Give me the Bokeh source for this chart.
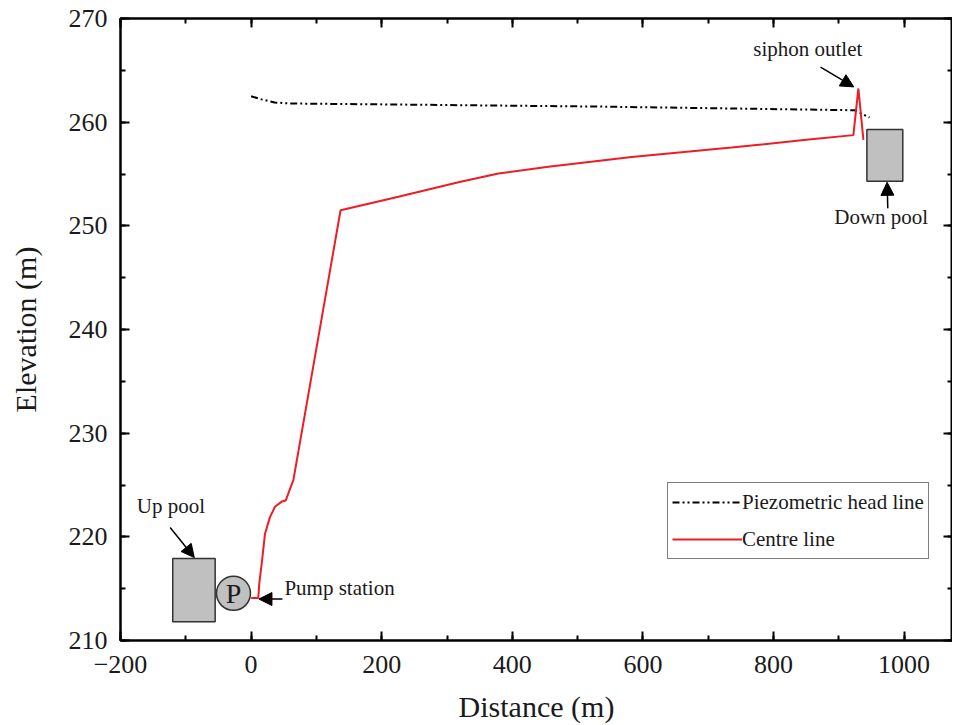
from bokeh.plotting import figure
from bokeh.models import (LinearAxis, SingleIntervalTicker, Range1d, Legend, LegendItem,
                          Arrow, NormalHead, ColumnDataSource, CustomJSTickFormatter)
from bokeh.core.properties import value
from bokeh.embed import file_html
from bokeh.resources import INLINE

# ---- data ----
centre_x = [0, 11, 12.5, 16.2, 21.3, 28.9, 36.6, 46.9, 53, 57.1, 64.8, 137, 225.6,
            317.5, 378.7, 455.3, 582.8, 735.7, 850, 922.3, 930, 937.7]
centre_y = [214.1, 214.1, 215.5, 217.4, 220.3, 221.9, 222.9, 223.4, 223.5, 224.2, 225.5,
            251.5, 252.8, 254.2, 255.05, 255.7, 256.65, 257.55, 258.3, 258.75, 263.25, 258.3]

piezo_x = [0, 16, 36, 60, 226, 537, 924, 947]
piezo_y = [262.5, 262.2, 261.9, 261.8, 261.7, 261.5, 261.15, 260.45]

# pools: left, right, bottom, top
pool_left = [-120, 943]
pool_right = [-55, 998]
pool_bottom = [211.8, 254.3]
pool_top = [217.9, 259.3]

pump_x = [-27]
pump_y = [214.55]

# annotations
label_text = ["Up pool", "Pump station", "siphon outlet", "Down pool"]
label_x = [-175, 51, 769, 893]
label_y = [223.0, 215.1, 267.1, 250.9]

arrow_x_start = [-124, 48, 872, 975]
arrow_y_start = [220.9, 214.0, 265.3, 251.7]
arrow_x_end = [-87, 12, 923, 974]
arrow_y_end = [218.0, 214.0, 263.4, 254.2]

x_ticks_interval = 200
y_ticks_interval = 10

FONT = "Liberation Serif"
TXT = "#1a1a1a"

frame_w = 832
px_per_unit = 0.653
x_start, x_end = -200, -200 + frame_w / px_per_unit

p = figure(frame_width=frame_w, frame_height=622, output_backend="svg", toolbar_location=None,
           x_range=Range1d(x_start, x_end), y_range=Range1d(210, 270),
           min_border_left=120, min_border_right=0, min_border_top=18, min_border_bottom=85,
           x_axis_location=None, y_axis_location=None)
p.grid.visible = False
p.outline_line_color = "black"
p.outline_line_width = 2
p.background_fill_color = "white"
p.border_fill_color = "white"


def make_axis(interval, labels=True):
    ax = LinearAxis(ticker=SingleIntervalTicker(interval=interval, num_minor_ticks=2))
    ax.axis_line_width = 2
    ax.axis_line_color = "black"
    ax.major_tick_in = 9
    ax.major_tick_out = 0
    ax.minor_tick_in = 5
    ax.minor_tick_out = 0
    ax.major_tick_line_width = 2
    ax.minor_tick_line_width = 2
    ax.major_tick_line_color = "black"
    ax.minor_tick_line_color = "black"
    ax.major_label_text_font = FONT
    ax.major_label_text_color = TXT
    ax.major_label_text_font_size = "26px"
    ax.axis_label_text_font = FONT
    ax.axis_label_text_font_size = "30px"
    ax.axis_label_text_font_style = "normal"
    ax.axis_label_text_color = TXT
    if not labels:
        ax.formatter = CustomJSTickFormatter(code="return ''")
        ax.major_label_standoff = 0
    return ax


bottom = make_axis(x_ticks_interval)
bottom.axis_label = "Distance (m)"
bottom.major_label_standoff = 15
bottom.axis_label_standoff = 14
left = make_axis(y_ticks_interval)
left.axis_label = "Elevation (m)"
left.major_label_standoff = 13
left.axis_label_standoff = 24
top = make_axis(x_ticks_interval, labels=False)
right = make_axis(y_ticks_interval, labels=False)
p.add_layout(bottom, "below")
p.add_layout(left, "left")
p.add_layout(top, "above")
p.add_layout(right, "right")

# pools
p.quad(left=pool_left, right=pool_right, bottom=pool_bottom, top=pool_top,
       fill_color="#c0c0c0", line_color="#333333", line_width=1.5)

# pump
p.scatter(x=pump_x, y=pump_y, size=34, marker="circle", fill_color="#c0c0c0",
          line_color="#333333", line_width=1.5)
p.text(x=pump_x, y=pump_y, text=["P"], text_font=value(FONT), text_font_size="28px",
       text_align="center", text_baseline="middle", text_color=TXT)

# lines
r_piezo = p.line(piezo_x, piezo_y, line_color="black", line_width=2, line_dash="7 3 2 3 2 3")
r_centre = p.line(centre_x, centre_y, line_color="#ee1c24", line_width=2)

# annotations
p.text(x=label_x, y=label_y, text=label_text, text_font=value(FONT), text_font_size="21px",
       text_align="left", text_baseline="middle", text_color=TXT)
arrow_src = ColumnDataSource(dict(xs=arrow_x_start, ys=arrow_y_start, xe=arrow_x_end, ye=arrow_y_end))
p.add_layout(Arrow(x_start="xs", y_start="ys", x_end="xe", y_end="ye", source=arrow_src,
                   line_color="black", line_width=1.5,
                   end=NormalHead(size=13, fill_color="black", line_color="black")))

legend = Legend(items=[LegendItem(label="Piezometric head line", renderers=[r_piezo]),
                       LegendItem(label="Centre line", renderers=[r_centre])],
                location=(547, 81), glyph_width=70, glyph_height=30, label_height=30,
                spacing=7, padding=4, margin=0, label_standoff=0,
                label_text_font=FONT, label_text_font_size="21px", label_text_color=TXT,
                border_line_color="black", border_line_width=1.5,
                background_fill_color="white", background_fill_alpha=1)
p.add_layout(legend)

open("out.html", "w").write(file_html(p, INLINE))
